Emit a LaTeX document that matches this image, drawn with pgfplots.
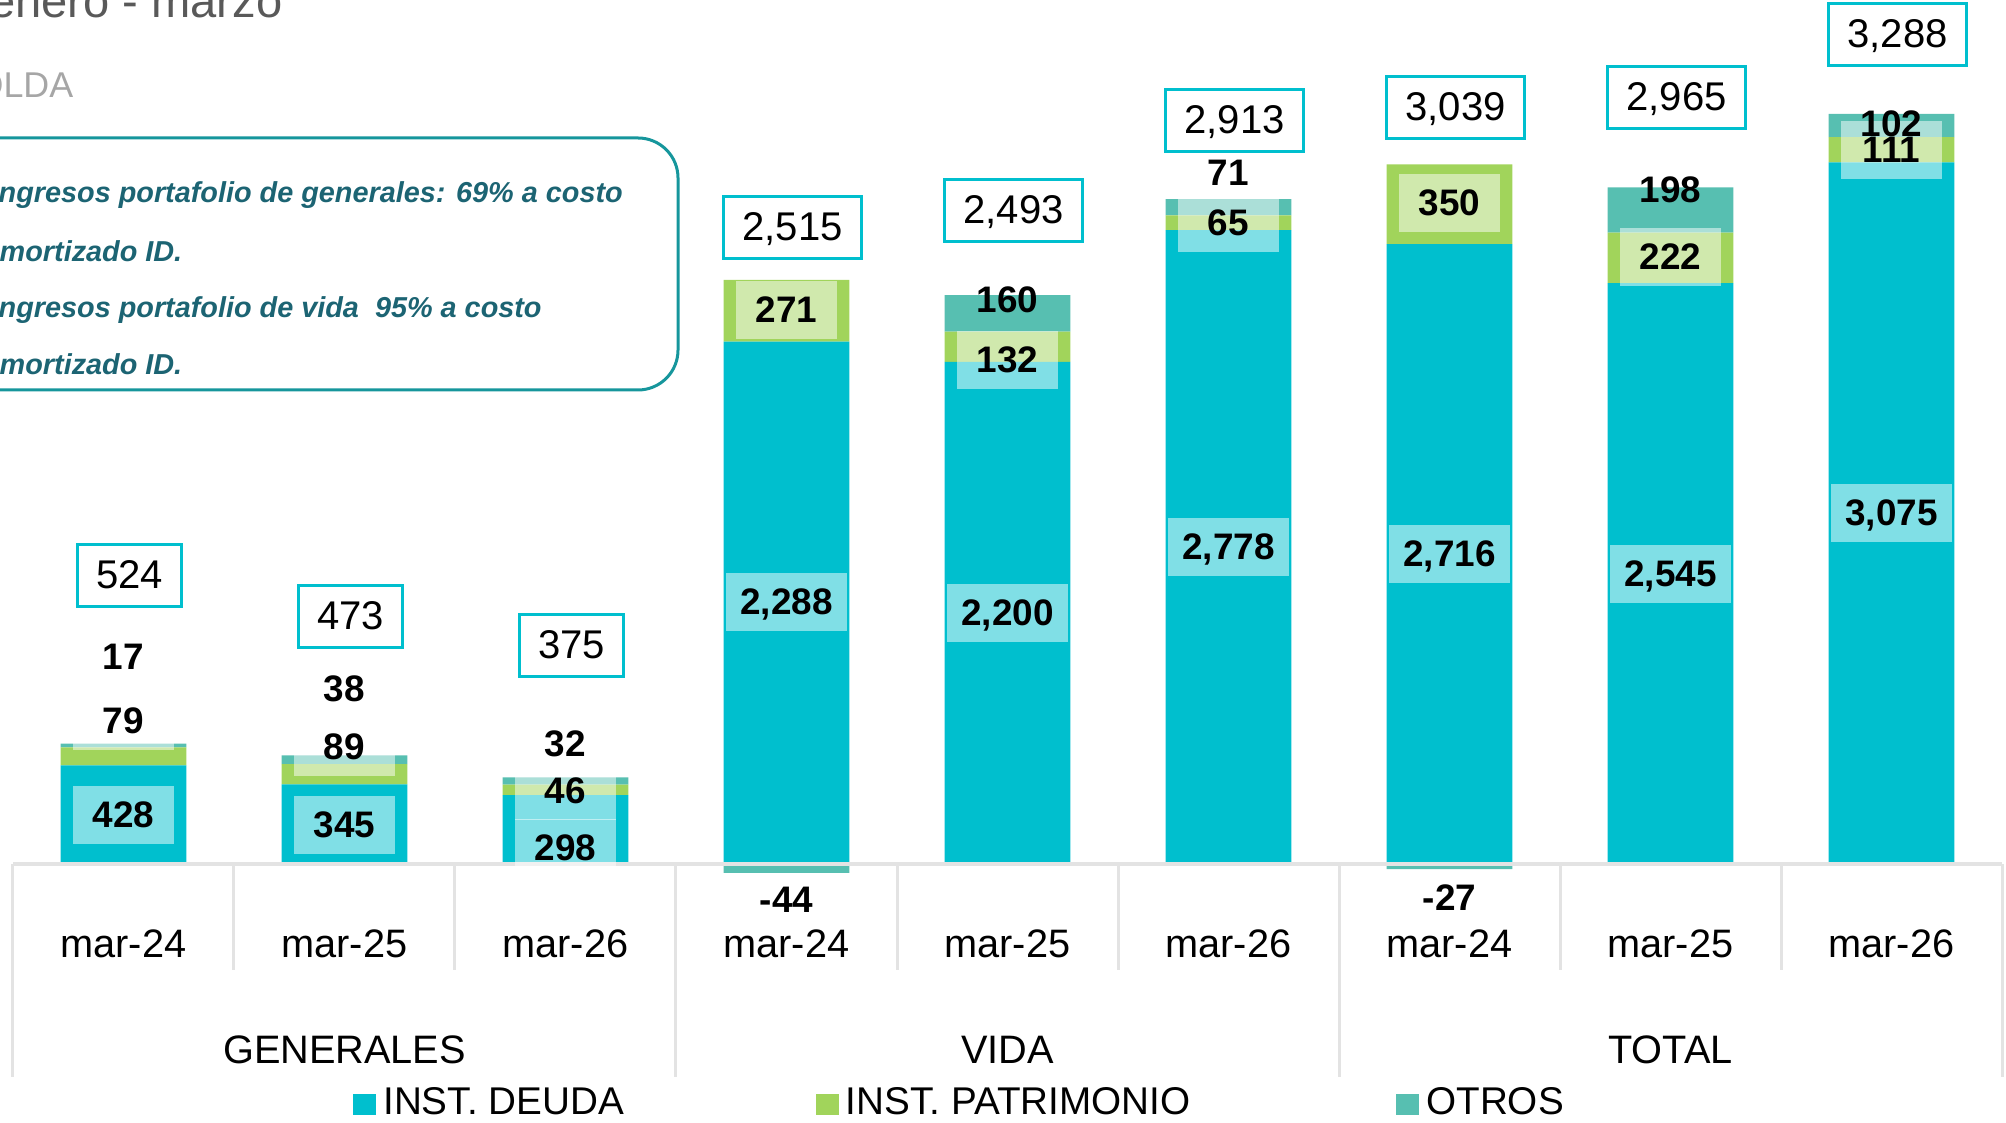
\documentclass[border=0pt]{standalone}
\usepackage{pgfplots}
\pgfplotsset{compat=1.18}
\usepackage{fontspec}
\setmainfont{Liberation Sans}
\definecolor{deuda}{HTML}{00BFCE}
\definecolor{patri}{HTML}{A1D45B}
\definecolor{otros}{HTML}{57BFB1}
\definecolor{gridg}{HTML}{E3E3E3}
\definecolor{callout}{HTML}{1C6473}
\definecolor{calloutb}{HTML}{16969C}
\definecolor{titleg}{HTML}{595959}
\definecolor{subg}{HTML}{A6A6A6}
\begin{document}
\begin{tikzpicture}
\useasboundingbox (0,0) rectangle (20.06cm,11.22cm);
\clip (0,0) rectangle (20.06cm,11.22cm);
\pgfplotsset{
  base/.style={at={(0,0)}, anchor=south west, scale only axis,
    width=20.06cm, height=11.22cm,
    xmin=-0.5588, xmax=8.5181, ymin=-1137, ymax=3788,
    hide axis, clip=false},
}
\tikzset{
  lab/.style={font=\fontsize{10.5}{12}\bfseries\selectfont, text=black, inner sep=0pt, text height=0.72em, text depth=0pt},
  labbox/.style={lab, fill=white, fill opacity=0.5, text opacity=1, minimum width=10.1mm, minimum height=5.8mm, inner xsep=1.45mm},
  totbox/.style={draw=deuda, line width=0.3mm, fill=white, text=black, font=\fontsize{11.4}{13}\selectfont, inner xsep=1.85mm, inner ysep=0pt, minimum width=10mm, minimum height=6.2mm, text height=0.72em, text depth=0pt, xshift=0.6mm},
  catlab/.style={font=\fontsize{11.3}{13}\selectfont, text=black, anchor=base, inner sep=0pt},
}
\begin{axis}[base, ybar stacked, bar width=0.57,
  legend style={draw=none, fill=none, legend columns=3, at={(0.4796,0.016)}, anchor=center,
    font=\fontsize{11}{13}\selectfont,
    /tikz/column 2/.style={column sep=18.5mm},
    /tikz/column 4/.style={column sep=19.9mm}},
  legend image code/.code={\fill[#1] (0mm,-1.05mm) rectangle (2.3mm,1.05mm);},
]
\addplot[fill=deuda, draw=none] coordinates {(0,428) (1,345) (2,298) (3,2288) (4,2200) (5,2778) (6,2716) (7,2545) (8,3075)};
\addplot[fill=patri, draw=none] coordinates {(0,79) (1,89) (2,46) (3,271) (4,132) (5,65) (6,350) (7,222) (8,111)};
\addplot[fill=otros, draw=none] coordinates {(0,17) (1,38) (2,32) (3,0) (4,160) (5,71) (6,0) (7,198) (8,102)};
\legend{INST. DEUDA, INST. PATRIMONIO, OTROS}
\end{axis}

% negative OTROS values below the base line, plus all annotations on top
\begin{axis}[base, ybar, bar width=0.57]
\addplot[fill=otros, draw=none] coordinates {(3,-44) (6,-27)};

% base line and category separators
\draw[gridg, line width=0.35mm] (axis cs:-0.5,-4) -- (axis cs:8.5,-4);
\pgfplotsinvokeforeach{0.5,1.5,3.5,4.5,6.5,7.5}{
  \draw[gridg, line width=0.3mm] (axis cs:#1,-4) -- (axis cs:#1,-470);
}
\pgfplotsinvokeforeach{-0.5,2.5,5.5,8.5}{
  \draw[gridg, line width=0.3mm] (axis cs:#1,-4) -- (axis cs:#1,-939);
}
% category labels
\node[catlab] at (axis cs:0,-413) {mar-24};
\node[catlab] at (axis cs:1,-413) {mar-25};
\node[catlab] at (axis cs:2,-413) {mar-26};
\node[catlab] at (axis cs:3,-413) {mar-24};
\node[catlab] at (axis cs:4,-413) {mar-25};
\node[catlab] at (axis cs:5,-413) {mar-26};
\node[catlab] at (axis cs:6,-413) {mar-24};
\node[catlab] at (axis cs:7,-413) {mar-25};
\node[catlab] at (axis cs:8,-413) {mar-26};
\node[catlab] at (axis cs:1,-878) {GENERALES};
\node[catlab] at (axis cs:4,-878) {VIDA};
\node[catlab] at (axis cs:7,-878) {TOTAL};

% deuda labels
\node[labbox] at (axis cs:0,211) {428};
\node[labbox] at (axis cs:1,167) {345};
\node[labbox] at (axis cs:2,66) {298};
\node[labbox] at (axis cs:3,1146) {2,288};
\node[labbox] at (axis cs:4,1098) {2,200};
\node[labbox] at (axis cs:5,1387) {2,778};
\node[labbox] at (axis cs:6,1356) {2,716};
\node[labbox] at (axis cs:7,1268) {2,545};
\node[labbox] at (axis cs:8,1536) {3,075};
% patrimonio labels
\node[labbox] at (axis cs:0,623) {79};
\node[labbox] at (axis cs:1,509) {89};
\node[labbox] at (axis cs:2,316) {46};
\node[labbox] at (axis cs:3,2428) {271};
\node[labbox] at (axis cs:4,2208) {132};
\node[labbox] at (axis cs:5,2809) {65};
\node[labbox] at (axis cs:6,2897) {350};
\node[labbox] at (axis cs:7,2660) {222};
\node[labbox] at (axis cs:8,3130) {111};
% otros labels
\node[lab] at (axis cs:0,904) {17};
\node[lab] at (axis cs:1,764) {38};
\node[lab] at (axis cs:2,522) {32};
\node[lab] at (axis cs:3,-162) {-44};
\node[lab] at (axis cs:4,2471) {160};
\node[lab] at (axis cs:5,3029) {71};
\node[lab] at (axis cs:6,-154) {-27};
\node[lab] at (axis cs:7,2954) {198};
\node[lab] at (axis cs:8,3244) {102};
% totals
\node[totbox] at (axis cs:0,1260) {524};
\node[totbox] at (axis cs:1,1080) {473};
\node[totbox] at (axis cs:2,953) {375};
\node[totbox] at (axis cs:3,2788) {2,515};
\node[totbox] at (axis cs:4,2862) {2,493};
\node[totbox] at (axis cs:5,3257) {2,913};
\node[totbox] at (axis cs:6,3314) {3,039};
\node[totbox] at (axis cs:7,3358) {2,965};
\node[totbox] at (axis cs:8,3635) {3,288};
\end{axis}

\begin{scope}[x=0.1mm, y=0.1mm]
\node[anchor=base east, text=titleg, font=\fontsize{13.4}{16}\selectfont, inner sep=0pt] at (283,1104) {enero - marzo};
\node[anchor=base east, text=subg, font=\fontsize{10.2}{12}\selectfont, inner sep=0pt] at (74,1024) {OLDA};
\draw[calloutb, line width=0.3mm, rounded corners=4mm] (-80,732) rectangle (678,984);
\begin{scope}[every node/.style={anchor=base west, inner sep=0pt, text=callout, font=\fontsize{8.2}{10}\bfseries\itshape\selectfont}]
\node at (-10,919) {Ingresos portafolio de generales: 69\% a costo};
\node at (-17,860) {amortizado ID.};
\node at (-10,804) {Ingresos portafolio de vida\ \ 95\% a costo};
\node at (-17,747) {amortizado ID.};
\end{scope}
\end{scope}
\end{tikzpicture}
\end{document}
